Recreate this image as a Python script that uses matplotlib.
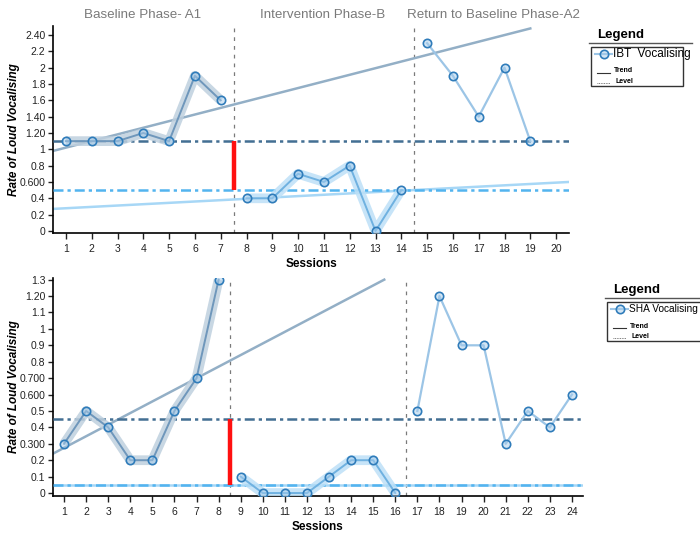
import matplotlib
matplotlib.use("Agg")
import matplotlib.pyplot as plt
from matplotlib.lines import Line2D
from matplotlib.patches import Rectangle

plt.rcParams['font.family'] = ['Liberation Sans', 'DejaVu Sans']

# ---------- data: IBT (top) ----------
ibt_a1_x = [1, 2, 3, 4, 5, 6, 7]
ibt_a1_y = [1.1, 1.1, 1.1, 1.2, 1.1, 1.9, 1.6]
ibt_b_x = [8, 9, 10, 11, 12, 13, 14]
ibt_b_y = [0.4, 0.4, 0.7, 0.6, 0.8, 0.0, 0.5]
ibt_a2_x = [15, 16, 17, 18, 19]
ibt_a2_y = [2.3, 1.9, 1.4, 2.0, 1.1]
ibt_trend_a1_x = [0.5, 19]
ibt_trend_a1_y = [0.98, 2.48]
ibt_trend_b_x = [0.5, 20.5]
ibt_trend_b_y = [0.27, 0.60]
ibt_level_a1 = 1.1
ibt_level_b = 0.5
ibt_phase_x = [7.5, 14.5]
ibt_yticks = [0, 0.2, 0.4, 0.6, 0.8, 1, 1.2, 1.4, 1.6, 1.8, 2, 2.2, 2.4]
ibt_ylabels = ['0', '0.2', '0.4', '0.600', '0.8', '1', '1.20', '1.40', '1.6', '1.8', '2', '2.2', '2.40']

# ---------- data: SHA (bottom) ----------
sha_a1_x = [1, 2, 3, 4, 5, 6, 7, 8]
sha_a1_y = [0.3, 0.5, 0.4, 0.2, 0.2, 0.5, 0.7, 1.3]
sha_b_x = [9, 10, 11, 12, 13, 14, 15, 16]
sha_b_y = [0.1, 0.0, 0.0, 0.0, 0.1, 0.2, 0.2, 0.0]
sha_a2_x = [17, 18, 19, 20, 21, 22, 23, 24]
sha_a2_y = [0.5, 1.2, 0.9, 0.9, 0.3, 0.5, 0.4, 0.6]
sha_trend_a1_x = [0.5, 15.5]
sha_trend_a1_y = [0.24, 1.30]
sha_trend_b_x = [0.5, 24.5]
sha_trend_b_y = [0.05, 0.05]
sha_level_a1 = 0.45
sha_level_b = 0.05
sha_phase_x = [8.5, 16.5]
sha_yticks = [0, 0.1, 0.2, 0.3, 0.4, 0.5, 0.6, 0.7, 0.8, 0.9, 1, 1.1, 1.2, 1.3]
sha_ylabels = ['0', '0.1', '0.2', '0.300', '0.4', '0.5', '0.600', '0.700', '0.8', '0.9', '1', '1.1', '1.20', '1.3']

phase_titles = ['Baseline Phase- A1', 'Intervention Phase-B', 'Return to Baseline Phase-A2']

# colours
c_a1 = '#6f97bb'
c_a1_band = '#bfd0de'
c_b = '#6fb1e0'
c_b_band = '#bde0f7'
c_a2 = '#9cc5e6'
c_mark = '#2f7cba'
mfc = (0.65, 0.8, 0.92, 0.5)
c_trend_a1 = '#93afc6'
c_trend_b = '#a7d7f6'
c_level_a1 = '#436f93'
c_level_b = '#53b4ef'

W, H = 700, 534
fig = plt.figure(figsize=(7, 5.34), dpi=100)


def fx(px):
    return px / W


def fy(py):
    return 1 - py / H


def draw_panel(ax, a1, b, a2, tr_a1, tr_b, lev_a1, lev_b, phases, xmax, ylim, yt, yl, hpx):
    ax.plot(tr_a1[0], tr_a1[1], color=c_trend_a1, lw=1.8, zorder=2)
    ax.plot(tr_b[0], tr_b[1], color=c_trend_b, lw=1.8, zorder=2)
    dash = (0, (4, 1.6, 1.3, 1.6))
    ax.axhline(lev_a1, color=c_level_a1, lw=1.8, ls=dash, zorder=3)
    ax.axhline(lev_b, color=c_level_b, lw=1.8, ls=dash, zorder=3)
    for px in phases:
        ax.axvline(px, ymin=0, ymax=1, color='#7a7a7a', lw=0.9, ls=(0, (3, 4)), zorder=1)
    ax.plot([phases[0], phases[0]], [lev_b, lev_a1], color='#ff1010', lw=3.2,
            solid_capstyle='butt', zorder=4)
    # bands
    ax.plot(a1[0], a1[1], color=c_a1_band, lw=7, alpha=0.85, zorder=4,
            solid_joinstyle='round', solid_capstyle='butt')
    ax.plot(b[0], b[1], color=c_b_band, lw=7, alpha=0.85, zorder=4,
            solid_joinstyle='round', solid_capstyle='butt')
    kw = dict(marker='o', ms=6, mew=1.2, mec=c_mark, mfc=mfc, zorder=5)
    ax.plot(a1[0], a1[1], color=c_a1, lw=1.4, **kw)
    ax.plot(b[0], b[1], color=c_b, lw=1.4, **kw)
    ax.plot(a2[0], a2[1], color=c_a2, lw=1.6, **kw)

    ax.set_xlim(0.5, xmax)
    ax.set_ylim(*ylim)
    ax.set_xticks(range(1, int(xmax) + 1))
    ax.set_yticks(yt)
    ax.set_yticklabels(yl)
    for s in ['top', 'right']:
        ax.spines[s].set_visible(False)
    ax.spines['left'].set_linewidth(1.2)
    ax.spines['bottom'].set_linewidth(1.2)
    ax.tick_params(axis='both', labelsize=7.5, colors='#222222', width=1, length=3.5, pad=2)
    ax.tick_params(axis='x', length=4, pad=4)
    ax.set_ylabel('Rate of Loud Vocalising', fontsize=8.5, fontweight='bold',
                  fontstyle='italic')
    ax.yaxis.label.set_verticalalignment('center')
    ax.yaxis.set_label_coords(-39 / (W * ax.get_position().width), 0.5)
    ax.set_xlabel('Sessions', fontsize=8.5, fontweight='bold')
    ax.xaxis.label.set_verticalalignment('center')
    ax.xaxis.set_label_coords(0.5, -31 / hpx)


ax1 = fig.add_axes([fx(53), fy(233), fx(569 - 53), (233 - 26) / H])
draw_panel(ax1, (ibt_a1_x, ibt_a1_y), (ibt_b_x, ibt_b_y), (ibt_a2_x, ibt_a2_y),
           (ibt_trend_a1_x, ibt_trend_a1_y), (ibt_trend_b_x, ibt_trend_b_y),
           ibt_level_a1, ibt_level_b, ibt_phase_x, 20.5, (-0.025, 2.51),
           ibt_yticks, ibt_ylabels, 233 - 26)

ax2 = fig.add_axes([fx(53), fy(496), fx(583 - 53), (496 - 278) / H])
draw_panel(ax2, (sha_a1_x, sha_a1_y), (sha_b_x, sha_b_y), (sha_a2_x, sha_a2_y),
           (sha_trend_a1_x, sha_trend_a1_y), (sha_trend_b_x, sha_trend_b_y),
           sha_level_a1, sha_level_b, sha_phase_x, 24.5, (-0.018, 1.31),
           sha_yticks, sha_ylabels, 496 - 278)

# phase titles
for t, px in zip(phase_titles, [142.5, 323, 493.5]):
    fig.text(fx(px), fy(15), t, ha='center', va='center', fontsize=9.6, color='#7a7a7a')


def draw_legend(x0, y0, x1, y1, name, size):
    # x0..x1, y0..y1: box in pixels
    fig.text(fx(x0 + 6), fy(y0 - 12), 'Legend', fontsize=9.5, fontweight='bold',
             ha='left', va='center')
    fig.add_artist(Line2D([fx(x0 - 2), fx(x1 + 9)], [fy(y0 - 4), fy(y0 - 4)],
                          color='#555555', lw=1))
    fig.add_artist(Rectangle((fx(x0), fy(y1)), fx(x1 - x0), (y1 - y0) / H,
                             fill=False, ec='#333333', lw=1))
    fig.add_artist(Line2D([fx(x0 + 4), fx(x0 + 21)], [fy(y0 + 7), fy(y0 + 7)],
                          color=c_a2, lw=1.5))
    fig.add_artist(Line2D([fx(x0 + 12.5)], [fy(y0 + 7)], color='none', marker='o',
                          ms=6, mew=1.2, mec=c_mark, mfc=mfc))
    fig.text(fx(x0 + 22), fy(y0 + 7), name, fontsize=size, ha='left', va='center')
    fig.add_artist(Line2D([fx(x0 + 6), fx(x0 + 19)], [fy(y0 + 26), fy(y0 + 26)],
                          color='#333333', lw=0.8))
    fig.text(fx(x0 + 23), fy(y0 + 24), 'Trend', fontsize=5, fontweight='bold',
             ha='left', va='center')
    fig.add_artist(Line2D([fx(x0 + 6), fx(x0 + 19)], [fy(y0 + 36), fy(y0 + 36)],
                          color='#555555', lw=0.6, ls=(0, (1, 1))))
    fig.text(fx(x0 + 25), fy(y0 + 35), 'Level', fontsize=5, fontweight='bold',
             ha='left', va='center')


draw_legend(591, 47, 683, 86, 'IBT  Vocalising', 8.5)
draw_legend(607, 302, 712, 341, 'SHA Vocalising', 7.3)

fig.savefig('out.png', dpi=100)
